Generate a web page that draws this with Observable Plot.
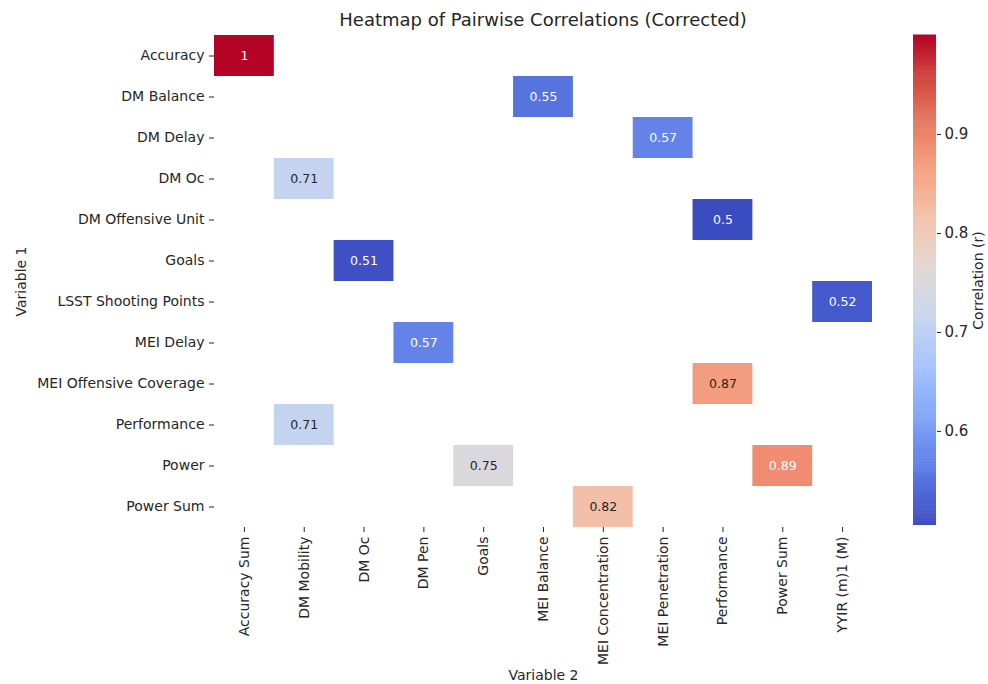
<!DOCTYPE html>
<html>
<head>
<meta charset="utf-8">
<script src="https://cdn.jsdelivr.net/npm/d3@7"></script>
<script src="https://cdn.jsdelivr.net/npm/@observablehq/plot@0.6"></script>
<style>
  html, body { margin: 0; padding: 0; background: #fff; }
  #wrap { position: relative; width: 988px; height: 684px; font-family: "DejaVu Sans", sans-serif; color: #262626; }
  #title { position: absolute; left: 214px; width: 658px; top: 9px; text-align: center; font-size: 18px; color: #262626; }
  #main { position: absolute; left: 0; top: 0; }
  #cbar { position: absolute; left: 880px; top: 0; }
</style>
</head>
<body>
<div id="wrap">
  <div id="main"></div>
  <div id="cbar"></div>
  <div id="title">Heatmap of Pairwise Correlations (Corrected)</div>
</div>
<script>
// Row categories (Variable 1)
const rows = ["Accuracy", "DM Balance", "DM Delay", "DM Oc", "DM Offensive Unit", "Goals",
  "LSST Shooting Points", "MEI Delay", "MEI Offensive Coverage", "Performance", "Power", "Power Sum"];
// Column categories (Variable 2)
const cols = ["Accuracy Sum", "DM Mobility", "DM Oc", "DM Pen", "Goals", "MEI Balance",
  "MEI Concentration", "MEI Penetration", "Performance", "Power Sum", "YYIR (m)1 (M)"];
// Non-empty cells
const cellRow = ["Accuracy", "DM Balance", "DM Delay", "DM Oc", "DM Offensive Unit", "Goals",
  "LSST Shooting Points", "MEI Delay", "MEI Offensive Coverage", "Performance", "Power", "Power", "Power Sum"];
const cellCol = ["Accuracy Sum", "MEI Balance", "MEI Penetration", "DM Mobility", "Performance", "DM Oc",
  "YYIR (m)1 (M)", "DM Pen", "Performance", "DM Mobility", "Goals", "Power Sum", "MEI Concentration"];
const cellVal = [1, 0.55, 0.57, 0.71, 0.5, 0.51, 0.52, 0.57, 0.87, 0.71, 0.75, 0.89, 0.82];
const cellLabel = ["1", "0.55", "0.57", "0.71", "0.5", "0.51", "0.52", "0.57", "0.87", "0.71", "0.75", "0.89", "0.82"];
// Colour scale
const colorDomain = [0.505, 1.0];
const cbarTicks = [0.6, 0.7, 0.8, 0.9];
const coolwarm = ["#3b4cc0", "#5977e3", "#7b9ff9", "#9ebeff", "#c0d4f5", "#dddcdc",
  "#f2cbb7", "#f7ac8e", "#ee8468", "#d65244", "#b40426"];

const interp = d3.interpolateRgbBasis(coolwarm);
const toT = v => (v - colorDomain[0]) / (colorDomain[1] - colorDomain[0]);
function lum(c) {
  const r = d3.rgb(c);
  const f = x => { x /= 255; return x <= 0.03928 ? x / 12.92 : Math.pow((x + 0.055) / 1.055, 2.4); };
  return 0.2126 * f(r.r) + 0.7152 * f(r.g) + 0.0722 * f(r.b);
}

const cells = cellVal.map((v, i) => {
  const c = interp(Math.max(0, Math.min(1, toT(v))));
  return { row: cellRow[i], col: cellCol[i], value: v, label: cellLabel[i], textColor: lum(c) > 0.408 ? "#262626" : "#ffffff" };
});

const colorScale = { type: "linear", domain: colorDomain, interpolate: () => interp, clamp: true };

const main = Plot.plot({
  width: 880,
  height: 684,
  marginLeft: 214,
  marginRight: 8,
  marginTop: 35,
  marginBottom: 157,
  style: { fontFamily: "DejaVu Sans, sans-serif", fontSize: "14px", color: "#262626", background: "transparent" },
  x: { type: "band", domain: cols, padding: 0, round: false, label: null },
  y: { type: "band", domain: rows, padding: 0, round: false, label: null },
  color: colorScale,
  marks: [
    Plot.cell(cells, { x: "col", y: "row", fill: "value", inset: 0 }),
    Plot.text(cells, { x: "col", y: "row", text: "label", fill: "textColor", fontSize: 12.5 }),
    Plot.axisX({ domain: cols, tickRotate: -90, tickSize: 5, tickPadding: 4, fontSize: 14, label: "Variable 2", labelAnchor: "center", labelArrow: "none", labelOffset: 152 }),
    Plot.axisY({ domain: rows, tickSize: 5, tickPadding: 5, fontSize: 14, label: "Variable 1", labelAnchor: "center", labelArrow: "none", labelOffset: 198 })
  ]
});
document.getElementById("main").appendChild(main);

// Colorbar
const nSteps = 240;
const steps = d3.range(nSteps).map(i => {
  const a = colorDomain[0] + (colorDomain[1] - colorDomain[0]) * i / nSteps;
  const b = colorDomain[0] + (colorDomain[1] - colorDomain[0]) * (i + 1) / nSteps;
  return { y1: a, y2: b, v: (a + b) / 2 };
});
const cbar = Plot.plot({
  width: 108,
  height: 684,
  marginLeft: 33,
  marginRight: 52,
  marginTop: 35,
  marginBottom: 159,
  style: { fontFamily: "DejaVu Sans, sans-serif", fontSize: "14px", color: "#262626", background: "transparent" },
  x: { domain: [0, 1], axis: null },
  y: { domain: colorDomain, axis: null },
  color: colorScale,
  marks: [
    Plot.rect(steps, { x1: 0, x2: 1, y1: "y1", y2: "y2", fill: "v", inset: 0, insetTop: -0.5 }),
    Plot.axisY({ anchor: "right", ticks: cbarTicks, tickFormat: d3.format(".1f"), tickSize: 4, tickPadding: 4, fontSize: 15, label: null }),
    Plot.axisY({ anchor: "right", ticks: [], tickSize: 0, fontSize: 14, label: "Correlation (r)", labelAnchor: "center", labelArrow: "none", labelOffset: 46 })
  ]
});
document.getElementById("cbar").appendChild(cbar);
</script>
</body>
</html>
